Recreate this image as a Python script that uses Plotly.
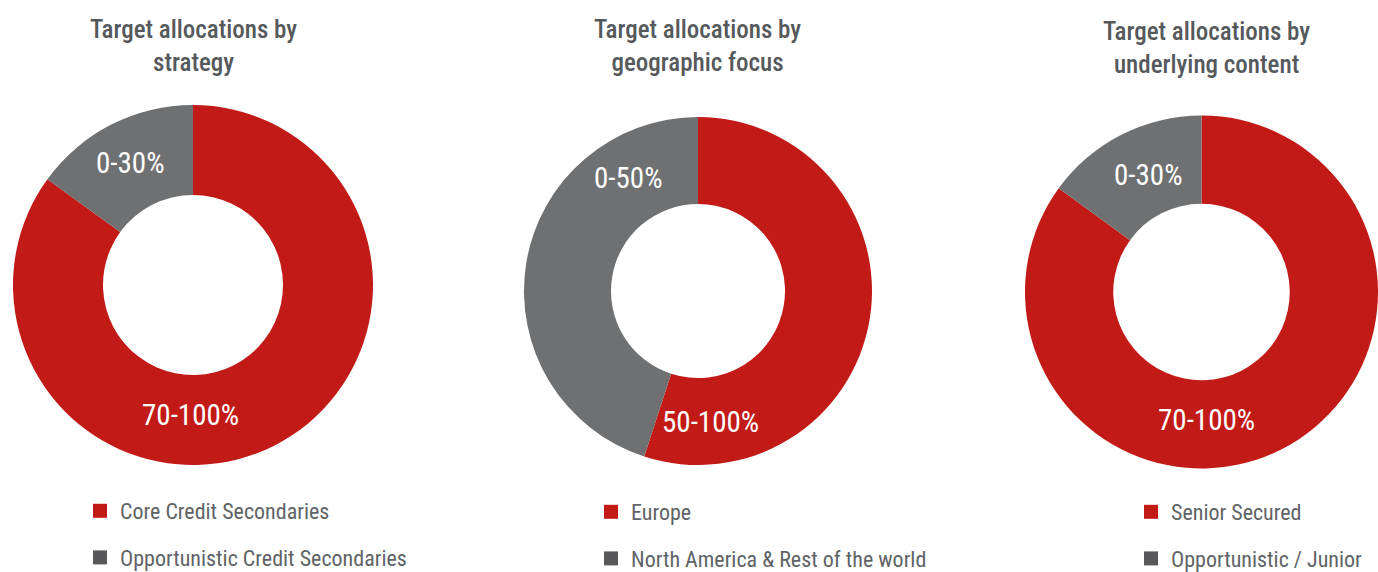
import plotly.graph_objects as go

W, H = 1378, 572
FONT = "Liberation Sans Narrow, Roboto Condensed, Roboto, sans-serif"
RED = "#C21B17"
GREY = "#6F7072"
LEG_GREY = "#58585A"
TXT = "#55595C"

titles = ["Target allocations by<br>strategy",
          "Target allocations by<br>geographic focus",
          "Target allocations by<br>underlying content"]
labels1 = ["Core Credit Secondaries", "Opportunistic Credit Secondaries"]
labels2 = ["Europe", "North America & Rest of the world"]
labels3 = ["Senior Secured", "Opportunistic / Junior"]
values1 = [85, 15]
values2 = [55, 45]
values3 = [85, 15]
ranges1 = ["70-100%", "0-30%"]
ranges2 = ["50-100%", "0-50%"]
ranges3 = ["70-100%", "0-30%"]

# layout positions (pixels)
domains = [((13, 373), (105, 465)), ((524, 872), (117, 465)), ((1025, 1378), (114, 470))]
title_pos = [(193, 46), (698, 46), (1206, 48)]
label_pos = [[(190, 415), (130, 163)], [(710, 422), (628, 178)], [(1206, 420), (1148, 175)]]
legend_pos = [(80, 490), (591, 491), (1131, 491)]

fig = go.Figure()
all_labels = [labels1, labels2, labels3]
all_values = [values1, values2, values3]
all_ranges = [ranges1, ranges2, ranges3]
legend_ids = ["legend", "legend2", "legend3"]

for i in range(3):
    (x0, x1), (y0, y1) = domains[i]
    fig.add_trace(go.Pie(
        labels=all_labels[i], values=all_values[i], hole=0.5, sort=False,
        direction="clockwise", rotation=0,
        marker=dict(colors=[RED, GREY], line=dict(width=0)),
        textinfo="none", hoverinfo="label", showlegend=False,
        domain=dict(x=[x0 / W, x1 / W], y=[1 - y1 / H, 1 - y0 / H]),
    ))
    for j, lab in enumerate(all_labels[i]):
        fig.add_trace(go.Scatter(
            x=[None], y=[None], mode="markers", name=lab,
            marker=dict(symbol="square", size=14, color=[RED, LEG_GREY][j]),
            legend=legend_ids[i], legendgroup=f"g{i}{j}", showlegend=True,
        ))
    tx, ty = title_pos[i]
    fig.add_annotation(text=titles[i], x=tx / W, y=1 - ty / H, xref="paper", yref="paper",
                       showarrow=False, font=dict(family=FONT, size=25, color=TXT, weight=500),
                       xanchor="center", yanchor="middle", align="center")
    for j, r in enumerate(all_ranges[i]):
        lx, ly = label_pos[i][j]
        fig.add_annotation(text=r, x=lx / W, y=1 - ly / H, xref="paper", yref="paper",
                           showarrow=False, font=dict(family=FONT, size=29, color="white"),
                           xanchor="center", yanchor="middle")

leg_common = dict(font=dict(family=FONT, size=22, color="#606366"), bgcolor="rgba(0,0,0,0)",
                  xanchor="left", yanchor="top", orientation="v", tracegroupgap=15,
                  itemclick=False, itemdoubleclick=False)
for i, lid in enumerate(legend_ids):
    lx, ly = legend_pos[i]
    fig.update_layout({lid: dict(x=lx / W, y=1 - ly / H, **leg_common)})

fig.update_layout(
    width=W, height=H, margin=dict(l=0, r=0, t=0, b=0, autoexpand=False),
    paper_bgcolor="white", plot_bgcolor="white",
    xaxis=dict(visible=False), yaxis=dict(visible=False),
)
fig.write_html("out.html")
